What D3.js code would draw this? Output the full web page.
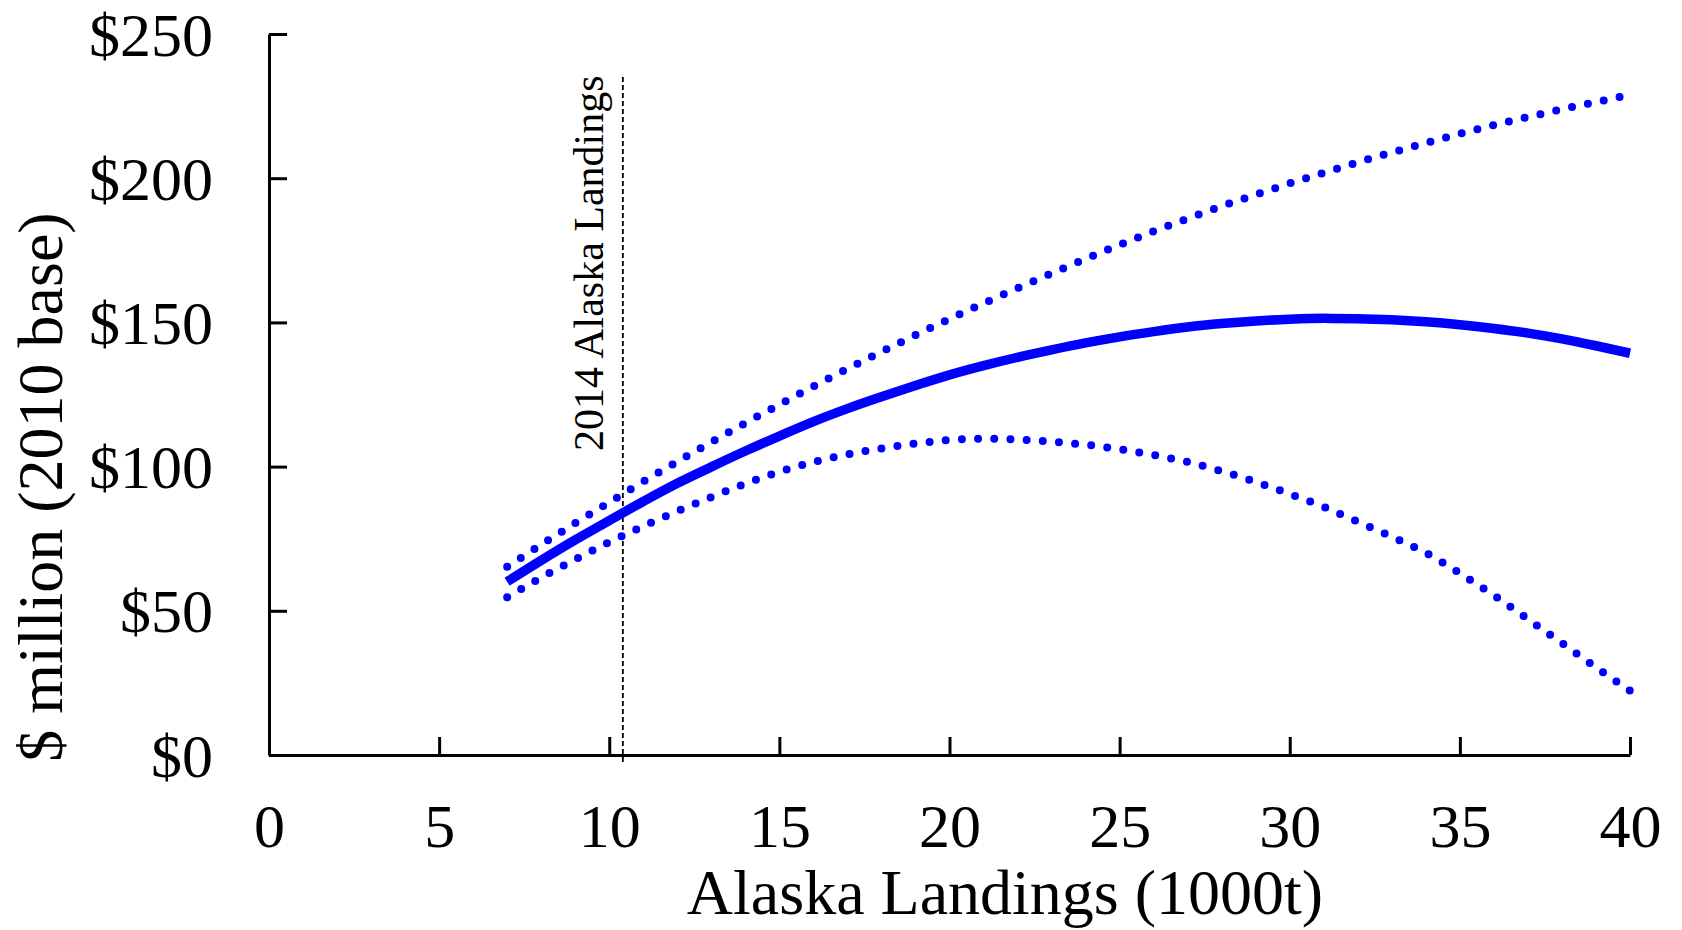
<!DOCTYPE html>
<html>
<head>
<meta charset="utf-8">
<script src="https://cdn.jsdelivr.net/npm/d3@7"></script>
<style>
  html, body { margin: 0; padding: 0; background: #fff; }
  svg { display: block; }
  text { font-family: "Liberation Serif", "Times New Roman", serif; fill: #000; }
</style>
</head>
<body>
<svg id="chart" width="1682" height="930"></svg>
<script>
// ---- data ----
const landings = [7,8,9,10,11,12,13,14,15,16,17,18,19,20,21,22,23,24,25,26,27,28,29,30,31,32,33,34,35,36,37,38,39,40];
const meanValue = [60.1,67.5,74.6,81.3,87.9,94.2,99.9,105.4,110.6,115.6,120.1,124.2,128.1,131.8,135.0,137.9,140.5,142.9,145.0,146.8,148.4,149.6,150.5,151.1,151.4,151.3,150.9,150.2,149.2,147.9,146.3,144.3,141.9,139.3];
const upperValue = [65.3,72.9,80.4,87.6,94.8,101.7,108.5,115.1,121.5,127.8,133.9,139.8,145.6,151.2,156.6,161.9,167.0,172.0,176.9,181.6,186.0,190.3,194.3,198.2,201.9,205.5,208.9,212.2,215.4,218.4,221.2,223.9,226.4,228.9];
const lowerValue = [54.7,61.5,67.8,73.8,79.3,84.5,89.4,94.1,98.2,101.6,104.2,106.3,108.0,109.2,109.7,109.4,108.6,107.6,106.0,104.0,101.6,98.4,94.7,90.5,86.0,80.9,75.7,70.1,63.0,55.4,47.1,38.8,30.4,22.3];
const landings2014 = 10.4;
const xTickValues = [0,5,10,15,20,25,30,35,40];
const yTickValues = [0,50,100,150,200,250];
const yTickLabels = ["$0","$50","$100","$150","$200","$250"];
const xTitle = "Alaska Landings (1000t)";
const yTitle = "$ million (2010 base)";
const refLabel = "2014 Alaska Landings";

// ---- layout ----
const svg = d3.select("#chart");
const plot = { left: 269, right: 1630, top: 34, bottom: 755 };

const x = d3.scaleLinear().domain([0, 40]).range([plot.left, plot.right]);
const y = d3.scaleLinear().domain([0, 250]).range([plot.bottom, plot.top]);

// ---- axes ----
const xAxis = d3.axisBottom(x).tickValues(xTickValues).tickSizeInner(-18).tickSizeOuter(0).tickFormat(d3.format("d"));
const gx = svg.append("g").attr("transform", `translate(0,${plot.bottom})`).call(xAxis);
gx.select(".domain").attr("stroke", "#000").attr("stroke-width", 3);
gx.selectAll(".tick line").attr("stroke", "#000").attr("stroke-width", 3);
gx.selectAll(".tick text").attr("y", 92).attr("dy", 0)
  .attr("font-size", 62).attr("font-family", "Liberation Serif").attr("fill", "#000");

const yAxis = d3.axisLeft(y).tickValues(yTickValues).tickSizeInner(-18).tickSizeOuter(0)
  .tickFormat((d, i) => yTickLabels[i]);
const gy = svg.append("g").attr("transform", `translate(${plot.left},0)`).call(yAxis);
gy.select(".domain").attr("stroke", "#000").attr("stroke-width", 3);
gy.selectAll(".tick line").attr("stroke", "#000").attr("stroke-width", 3);
gy.selectAll(".tick text").attr("x", -56).attr("dy", "0.34em")
  .attr("font-size", 62).attr("font-family", "Liberation Serif").attr("fill", "#000");

// ---- axis titles ----
svg.append("text")
  .attr("x", 1005).attr("y", 914)
  .attr("text-anchor", "middle")
  .attr("font-size", 64)
  .text(xTitle);

svg.append("text")
  .attr("transform", "translate(62,487) rotate(-90)")
  .attr("text-anchor", "middle")
  .attr("font-size", 64)
  .text(yTitle);

// ---- reference line ----
svg.append("line")
  .attr("x1", x(landings2014)).attr("x2", x(landings2014))
  .attr("y1", 77).attr("y2", plot.bottom + 9)
  .attr("stroke", "#000").attr("stroke-width", 1.8)
  .attr("stroke-dasharray", "5,3");

svg.append("text")
  .attr("transform", `translate(${x(landings2014) - 20},451) rotate(-90)`)
  .attr("text-anchor", "start")
  .attr("font-size", 42)
  .text(refLabel);

// ---- curves ----
const mk = vals => d3.line()
  .x((d, i) => x(landings[i]))
  .y(d => y(d))
  .curve(d3.curveMonotoneX)(vals);

svg.append("path")
  .attr("d", mk(upperValue))
  .attr("fill", "none").attr("stroke", "#0000ff")
  .attr("stroke-width", 8).attr("stroke-linecap", "round")
  .attr("stroke-dasharray", "0,16.2");

svg.append("path")
  .attr("d", mk(lowerValue))
  .attr("fill", "none").attr("stroke", "#0000ff")
  .attr("stroke-width", 8).attr("stroke-linecap", "round")
  .attr("stroke-dasharray", "0,16.2");

svg.append("path")
  .attr("d", mk(meanValue))
  .attr("fill", "none").attr("stroke", "#0000ff")
  .attr("stroke-width", 9.5).attr("stroke-linecap", "butt");
</script>
</body>
</html>
